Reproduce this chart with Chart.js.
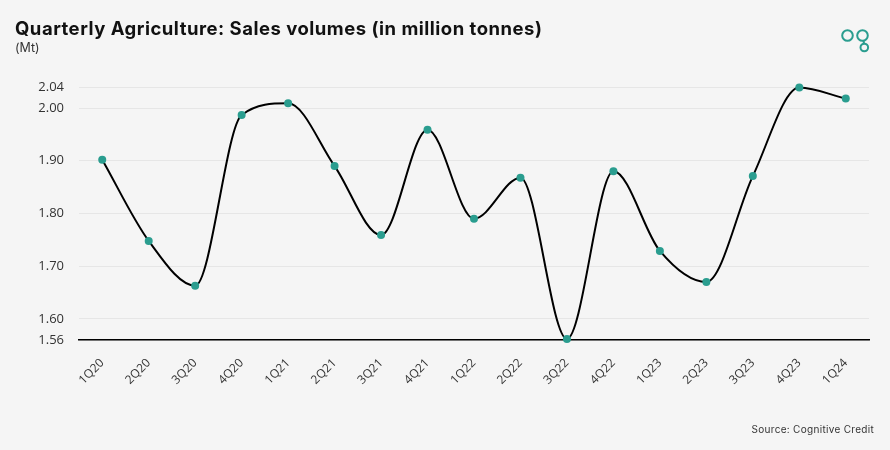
<!DOCTYPE html>
<html>
<head>
<meta charset="utf-8">
<script src="https://cdn.jsdelivr.net/npm/chart.js@4"></script>
<style>
  html, body { margin: 0; padding: 0; background: #f5f5f5; }
  #wrap { position: relative; width: 890px; height: 450px; overflow: hidden; background: #f5f5f5; }
  #titulo { position: absolute; left: 15px; top: 17px; font-family: Inter, "Open Sans", sans-serif; font-weight: 700; font-size: 18.5px; color: #111; white-space: nowrap; letter-spacing: 0.5px; }
  #unidad { position: absolute; left: 15px; top: 40px; font-family: Inter, "Open Sans", sans-serif; font-size: 12.5px; color: #333; }
  #fuente { position: absolute; right: 16px; top: 423px; font-family: Inter, "Open Sans", sans-serif; font-size: 10px; letter-spacing: 0.3px; color: #333; }
  #logo { position: absolute; left: 0; top: 0; }
  canvas { position: absolute; left: 0; top: 0; }
</style>
</head>
<body>
<div id="wrap">
  <canvas id="grafica" width="890" height="450"></canvas>
  <div id="titulo">Quarterly Agriculture: Sales volumes (in million tonnes)</div>
  <div id="unidad">(Mt)</div>
  <div id="fuente">Source: Cognitive Credit</div>
  <svg id="logo" width="890" height="60">
    <g fill="none" stroke="#2a9d8f" stroke-width="2">
      <circle cx="847.5" cy="35.5" r="5.3"/>
      <circle cx="862.5" cy="35.5" r="5.3"/>
      <line x1="863.5" y1="40.8" x2="864" y2="43.5"/>
      <circle cx="864.3" cy="47.5" r="3.8"/>
    </g>
  </svg>
</div>
<script>
"use strict";
/* DATOS */
const trimestres = ["1Q20", "2Q20", "3Q20", "4Q20", "1Q21", "2Q21", "3Q21", "4Q21", "1Q22",
    "2Q22", "3Q22", "4Q22", "1Q23", "2Q23", "3Q23", "4Q23", "1Q24"];
const volumenes = [1.902, 1.748, 1.663, 1.987, 2.009, 1.890, 1.759, 1.959, 1.790,
    1.868, 1.562, 1.880, 1.729, 1.670, 1.871, 2.039, 2.018];
const marcasY = [1.56, 1.60, 1.70, 1.80, 1.90, 2.00, 2.04];

/* GRÁFICA */
function inicializarGrafica() {
    const canvas = document.getElementById("grafica");
    new Chart(canvas, {
        type: "line",
        data: {
            labels: trimestres,
            datasets: [
                {
                    data: volumenes,
                    borderColor: "#000",
                    borderWidth: 2,
                    cubicInterpolationMode: "monotone",
                    pointRadius: 4,
                    pointBackgroundColor: "#2a9d8f",
                    pointBorderWidth: 0,
                    clip: false
                }
            ]
        },
        options: {
            responsive: false,
            animation: false,
            layout: {
                padding: { top: 87, right: 21, left: 0, bottom: 0 }
            },
            plugins: {
                legend: { display: false },
                tooltip: { enabled: false }
            },
            scales: {
                x: {
                    offset: true,
                    grid: { display: false, drawTicks: false, offset: true },
                    border: { display: true, color: "#000", width: 1.5 },
                    ticks: {
                        minRotation: 45,
                        maxRotation: 45,
                        padding: 16,
                        color: "#333",
                        font: { family: "'Open Sans'", size: 12 }
                    },
                    afterFit: (escala) => { escala.height = 110; }
                },
                y: {
                    min: 1.56,
                    max: 2.04,
                    grid: { color: "#e6e6e6", drawTicks: false },
                    border: { display: false },
                    afterBuildTicks: (escala) => {
                        escala.ticks = marcasY.map(v => ({ value: v }));
                    },
                    ticks: {
                        padding: 15,
                        color: "#333",
                        font: { family: "'Open Sans'", size: 13 },
                        callback: (v) => Number(v).toFixed(2)
                    },
                    afterFit: (escala) => { escala.width = 79; }
                }
            }
        }
    });
}

document.addEventListener("DOMContentLoaded", () => {
    inicializarGrafica();
});
</script>
</body>
</html>
